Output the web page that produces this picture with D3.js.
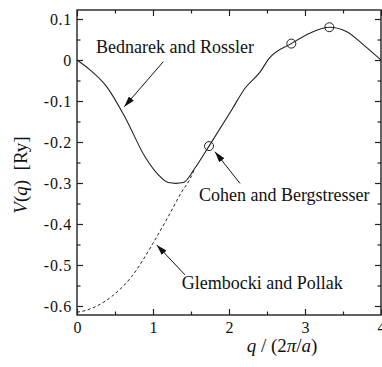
<!DOCTYPE html>
<html>
<head>
<meta charset="utf-8">
<script src="https://cdn.jsdelivr.net/npm/d3@7"></script>
<style>
  html, body { margin: 0; padding: 0; background: #fff; }
  svg { display: block; }
</style>
</head>
<body>
<svg id="chart" width="382" height="367"></svg>
<script>
// Pseudopotential form factor V(q) in Rydberg vs q in units of 2π/a
const qSolid = [0, 0.17, 0.39, 0.63, 0.895, 1.07, 1.2, 1.3, 1.4, 1.55, 1.737, 2.035, 2.21, 2.41, 2.52, 2.82, 3.07, 3.32, 3.55, 3.77, 4.0];
const vSolid = [0, -0.024, -0.065, -0.139, -0.236, -0.28, -0.299, -0.301, -0.299, -0.264, -0.21, -0.122, -0.069, -0.029, 0.002, 0.04, 0.066, 0.08, 0.069, 0.037, 0.0];

const qDashed = [0, 0.04, 0.24, 0.456, 0.72, 1.0, 1.2, 1.38, 1.49, 1.55];
const vDashed = [-0.615, -0.614, -0.602, -0.577, -0.528, -0.447, -0.382, -0.321, -0.289, -0.264];

// Discrete form factors (open circles)
const qPoints = [1.737, 2.82, 3.32];
const vPoints = [-0.21, 0.04, 0.08];

const xTickValues = [0, 1, 2, 3, 4];
const xMinorValues = [0.5, 1.5, 2.5, 3.5];
const yTickValues = [0.1, 0, -0.1, -0.2, -0.3, -0.4, -0.5, -0.6];
const yMinorValues = [0.05, -0.05, -0.15, -0.25, -0.35, -0.45, -0.55];

const labelNames = ["Bednarek and Rossler", "Cohen and Bergstresser", "Glembocki and Pollak"];
const labelAt = [[0.25, 0.032], [1.605, -0.33], [1.378, -0.545]];
const arrowTail = [[1.136, -0.004], [2.145, -0.301], [1.421, -0.524]];
const arrowTip = [[0.622, -0.114], [1.816, -0.224], [1.049, -0.451]];

const FONT = "'Liberation Serif', 'Times New Roman', Times, serif";

const svg = d3.select("#chart");
const plotL = 77, plotR = 381, plotT = 10, plotB = 315;

const x = d3.scaleLinear().domain([0, 4]).range([plotL, plotR]);
const y = d3.scaleLinear().domain([-0.622, 0.122]).range([plotB, plotT]);

const fmtY = v => (v === 0 ? "0" : d3.format(".1f")(v).replace("\u2212", "-"));

// inward ticks on all four sides
function tickAxis(axisGen, transform, values, size, fmt) {
  const g = svg.append("g").attr("transform", transform)
    .call(axisGen.tickValues(values).tickSize(size).tickPadding(0)
      .tickFormat(fmt ? fmt : () => ""));
  g.attr("font-family", FONT);
  g.select(".domain").remove();
  g.selectAll(".tick line").attr("stroke", "#222").attr("stroke-width", 1.2);
  g.selectAll(".tick text").style("font-family", FONT).attr("fill", "#111");
  return g;
}

// bottom
const gxb = tickAxis(d3.axisBottom(x), `translate(0,${plotB})`, xTickValues, -6, d3.format("d"));
gxb.selectAll(".tick text").attr("y", 7).attr("dy", "0.71em").style("font-size", "16px");
tickAxis(d3.axisBottom(x), `translate(0,${plotB})`, xMinorValues, -3.5, null);
// top
tickAxis(d3.axisTop(x), `translate(0,${plotT})`, xTickValues, -6, null);
tickAxis(d3.axisTop(x), `translate(0,${plotT})`, xMinorValues, -3.5, null);
// left
const gyl = tickAxis(d3.axisLeft(y), `translate(${plotL},0)`, yTickValues, -6, fmtY);
gyl.selectAll(".tick text").attr("x", -5).style("font-size", "16px")
  .style("letter-spacing", "0.7px").attr("dy", "0.34em");
tickAxis(d3.axisLeft(y), `translate(${plotL},0)`, yMinorValues, -3.5, null);
// right
tickAxis(d3.axisRight(y), `translate(${plotR},0)`, yTickValues, -6, null);
tickAxis(d3.axisRight(y), `translate(${plotR},0)`, yMinorValues, -3.5, null);

// frame
svg.append("rect")
  .attr("x", plotL).attr("y", plotT)
  .attr("width", plotR - plotL).attr("height", plotB - plotT)
  .attr("fill", "none").attr("stroke", "#222").attr("stroke-width", 1.4);

const line = d3.line().x(d => x(d[0])).y(d => y(d[1])).curve(d3.curveMonotoneX);

svg.append("path")
  .datum(qDashed.map((q, i) => [q, vDashed[i]]))
  .attr("d", line)
  .attr("fill", "none").attr("stroke", "#222").attr("stroke-width", 1)
  .attr("stroke-dasharray", "3,2.5");

svg.append("path")
  .datum(qSolid.map((q, i) => [q, vSolid[i]]))
  .attr("d", line)
  .attr("fill", "none").attr("stroke", "#222").attr("stroke-width", 1.1);

svg.selectAll("circle.pt")
  .data(qPoints.map((q, i) => [q, vPoints[i]]))
  .join("circle")
  .attr("class", "pt")
  .attr("cx", d => x(d[0])).attr("cy", d => y(d[1]))
  .attr("r", 4.5)
  .attr("fill", "none").attr("stroke", "#222").attr("stroke-width", 1);

// annotation arrows
svg.append("defs").append("marker")
  .attr("id", "head")
  .attr("viewBox", "0 0 10 6")
  .attr("refX", 10).attr("refY", 3)
  .attr("markerWidth", 11).attr("markerHeight", 6.5)
  .attr("markerUnits", "userSpaceOnUse")
  .attr("orient", "auto")
  .append("path").attr("d", "M0,0 L10,3 L0,6 Z").attr("fill", "#111");

labelNames.forEach((name, i) => {
  svg.append("line")
    .attr("x1", x(arrowTail[i][0])).attr("y1", y(arrowTail[i][1]))
    .attr("x2", x(arrowTip[i][0])).attr("y2", y(arrowTip[i][1]))
    .attr("stroke", "#111").attr("stroke-width", 1)
    .attr("marker-end", "url(#head)");
  svg.append("text")
    .attr("x", x(labelAt[i][0])).attr("y", y(labelAt[i][1]))
    .attr("dy", "0.33em")
    .style("font-family", FONT).style("font-size", "18px").attr("fill", "#111")
    .text(name);
});

// axis titles
const xt = svg.append("text")
  .attr("x", 282).attr("y", 352)
  .attr("text-anchor", "middle")
  .style("font-family", FONT).style("font-size", "19px").attr("fill", "#111");
xt.append("tspan").attr("font-style", "italic").text("q");
xt.append("tspan").text(" / (2");
xt.append("tspan").attr("font-style", "italic").text("\u03c0");
xt.append("tspan").text("/");
xt.append("tspan").attr("font-style", "italic").text("a");
xt.append("tspan").text(")");

const yt = svg.append("text")
  .attr("transform", "translate(27,175) rotate(-90)")
  .attr("text-anchor", "middle")
  .style("font-family", FONT).style("font-size", "19px").attr("fill", "#111");
yt.append("tspan").attr("font-style", "italic").text("V");
yt.append("tspan").text("(");
yt.append("tspan").attr("font-style", "italic").text("q");
yt.append("tspan").text(")\u00a0\u00a0[Ry]");
</script>
</body>
</html>
